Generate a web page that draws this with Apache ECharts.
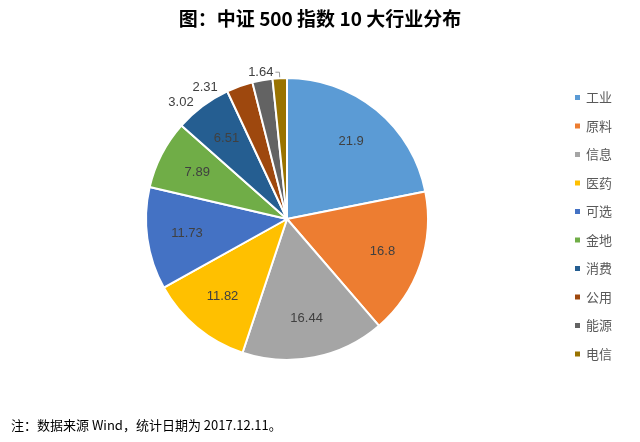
<!DOCTYPE html><html><head><meta charset="utf-8"><script src="https://cdn.jsdelivr.net/npm/echarts@6/dist/echarts.min.js"></script></head><body style="margin:0;background:#fff"><div id="c" style="width:640px;height:442px"></div><script>
const categories=['工业','原料','信息','医药','可选','金地','消费','公用','能源','电信'];
const values=[21.9,16.8,16.44,11.82,11.73,7.89,6.51,3.02,2.31,1.64];
const colors=['#5B9BD5','#ED7D31','#A5A5A5','#FFC000','#4472C4','#70AD47','#255E91','#9E480E','#636363','#997300'];
const data=categories.map((n,i)=>({name:n,value:values[i],itemStyle:{color:colors[i]},
 label:{show:i>=7,position:'outside',color:'#404040'},
 labelLine:{show:i===9,length:6,length2:4,lineStyle:{color:'#999'}}}));
const ghost=categories.map((n,i)=>({name:n,value:values[i],itemStyle:{color:'rgba(0,0,0,0)'},label:{show:i<7}}));
const ch=echarts.init(document.getElementById('c'));
ch.setOption({animation:false,
title:[{text:'图：中证 500 指数 10 大行业分布',left:'center',top:4,textStyle:{fontFamily:'Noto Sans CJK SC',fontSize:19,fontWeight:'bold',color:'#000'}},
{text:'注：数据来源 Wind，统计日期为 2017.12.11。',left:6,top:414,textStyle:{fontFamily:'Noto Sans CJK SC',fontSize:13,fontWeight:'normal',color:'#000'}}],
legend:{orient:'vertical',left:568,top:86,itemWidth:7,itemHeight:7,itemGap:15.5,icon:'rect',data:categories,textStyle:{fontSize:13,color:'#595959',fontFamily:'Noto Sans CJK SC'}},
series:[{type:'pie',center:[287,219],radius:[0,141],startAngle:90,clockwise:true,data,
 itemStyle:{borderColor:'#fff',borderWidth:2},
 label:{fontSize:13,formatter:'{c}',fontFamily:'Liberation Sans',distanceToLabelLine:2}},
{type:'pie',center:[287,219],radius:[0,196],startAngle:90,clockwise:true,silent:true,data:ghost,
 labelLine:{show:false},label:{position:'inside',fontSize:13,color:'#404040',formatter:'{c}',fontFamily:'Liberation Sans'},z:5}]});
</script></body></html>
